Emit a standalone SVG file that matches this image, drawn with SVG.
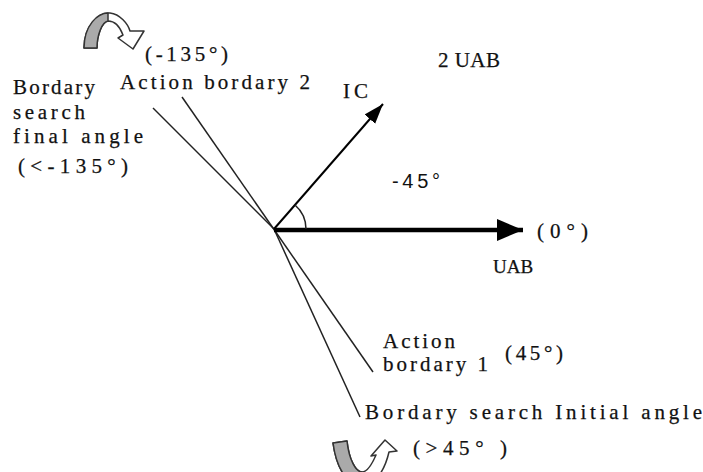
<svg xmlns="http://www.w3.org/2000/svg" width="703" height="472" viewBox="0 0 703 472">
<style>
.t{font-family:"Liberation Serif","Times New Roman",serif;font-size:21px;fill:#111;stroke:#111;stroke-width:0.25}
.s{font-family:"Liberation Sans",Arial,sans-serif;font-size:20px;fill:#111}
.ln{stroke:#222;stroke-width:1.5;fill:none}
.ca{fill:#fff;stroke:#333;stroke-width:1.5;stroke-linejoin:round}
.cg{fill:#aaa;stroke:#333;stroke-width:1.5;stroke-linejoin:round}
</style>
<defs>
<marker id="hb" markerUnits="userSpaceOnUse" markerWidth="28" markerHeight="24" refX="26" refY="11" orient="auto">
<polygon points="0,0 26,11 0,22" fill="#000"/>
</marker>
<marker id="hs" markerUnits="userSpaceOnUse" markerWidth="22" markerHeight="16" refX="20" refY="7" orient="auto">
<polygon points="0,0 20,7 0,14" fill="#000"/>
</marker>
</defs>
<rect width="703" height="472" fill="#fff"/>
<g id="connectors">
<line class="ln" x1="182" y1="97" x2="373" y2="372"/>
<line class="ln" x1="153" y1="108" x2="274" y2="229"/>
<line class="ln" x1="274" y1="229" x2="360" y2="417"/>
<line x1="274" y1="230" x2="523" y2="230" stroke="#000" stroke-width="4.5" marker-end="url(#hb)"/>
<line x1="274" y1="229" x2="383" y2="104" stroke="#000" stroke-width="2" marker-end="url(#hs)"/>
<path class="ln" d="M295,205 A32,32 0 0 1 306,229"/>
</g>
<g id="rotate-top">
<path class="ca" d="M84,48 C84,25 100,12 110,13 C120,14 128,24 130,31 L144,31 L133,49 L118,38 L123,35 C120,27 115,21 108,21 C102,22 97,35 97,48 Z"/>
<path class="cg" d="M84,48 C84,25 98,13 108,13 L108,21 C102,22 97,35 97,48 Z"/>
</g>
<g id="rotate-bottom">
<path class="ca" d="M333,443 L347,441 C349,460 356,472 362,472 C368,472 373,462 376,455 L371,456 L385,440 L397,451 L389,452 C386,465 378,485 362,485 C345,485 336,465 333,443 Z"/>
<path class="cg" d="M333,443 L347,441 C349,460 356,472 362,472 L362,485 C345,485 336,465 333,443 Z"/>
</g>
<g id="label-135"><text class="t" x="145" y="61" textLength="83">(-135°)</text></g>
<g id="action-bordary-2"><text class="t" x="120" y="89" textLength="190">Action bordary 2</text></g>
<g id="search-final">
<text class="t" x="13" y="94" textLength="82">Bordary</text>
<text class="t" x="13" y="119" textLength="72">search</text>
<text class="t" x="13" y="143" textLength="130">final angle</text>
<text class="t" x="18" y="173" textLength="110">(&lt;-135°)</text>
</g>
<g id="ic"><text class="t" x="343" y="98" textLength="25">IC</text></g>
<g id="uab2"><text class="t" x="438" y="67" textLength="62">2 UAB</text></g>
<g id="angle45"><text class="s" x="392" y="188" textLength="48">-45°</text></g>
<g id="uab">
<text class="t" x="537" y="238" textLength="51">(0°)</text>
<text class="t" x="493" y="273" style="font-size:19px">UAB</text>
</g>
<g id="action-bordary-1">
<text class="t" x="383" y="348" textLength="72">Action</text>
<text class="t" x="383" y="371" textLength="105">bordary 1</text>
<text class="t" x="505" y="360" textLength="58">(45°)</text>
</g>
<g id="search-initial">
<text class="t" x="365" y="419" textLength="337">Bordary search Initial angle</text>
<text class="t" x="413" y="455" textLength="94">(&gt;45° )</text>
</g>
</svg>
